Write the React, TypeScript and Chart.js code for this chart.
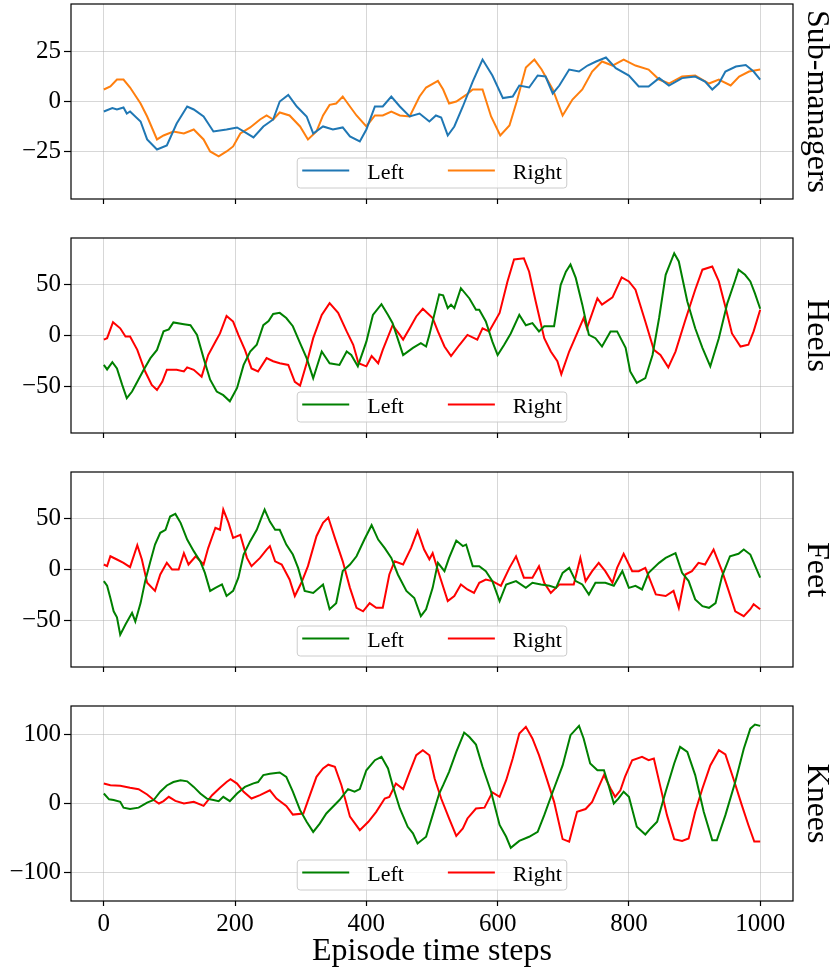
import { useEffect, useRef } from "react";
import { Chart, registerables } from "chart.js";

Chart.register(...registerables);

const FONT = "'Liberation Serif', 'Times New Roman', 'DejaVu Serif', serif";
const GRID = "rgba(176, 176, 176, 0.5)";

// shared axis values
const xTicks = [0, 200, 400, 600, 800, 1000];
const seriesLabels = ["Left", "Right"];

type Pt = [number, number];

// Sub-managers panel
const subManagersTicks = [-25, 0, 25];
const subManagersLeft: Pt[] = [
  [0, -5], [13, -3.3], [20, -4], [30, -3], [35, -6], [40, -5], [56, -10], [66, -19], [81, -24], [96, -22],
  [111, -11], [127, -2.5], [137, -4], [152, -7.5], [167, -15], [187, -14], [203, -13], [218, -16], [228, -18],
  [243, -12.5], [258, -9], [268, 0], [281, 3.3], [294, -2.5], [309, -7.5], [319, -16], [334, -12.5], [349, -14],
  [364, -13], [375, -17.5], [390, -20], [400, -14], [413, -2.5], [425, -2.5], [438, 2.5], [451, -2.5], [466, -7.5],
  [481, -6], [496, -10], [506, -7], [514, -8], [524, -17], [534, -12.5], [547, -2.5], [562, 10], [577, 21],
  [592, 13], [608, 1.7], [623, 2.5], [633, 8], [648, 7], [661, 13], [673, 12.5], [684, 4], [694, 8], [709, 16],
  [724, 15], [737, 18], [750, 20], [765, 22], [780, 16.7], [800, 13], [815, 7.5], [830, 7.5], [846, 11.7],
  [861, 8], [881, 11.7], [901, 12.5], [916, 10], [927, 6], [937, 9], [947, 15], [963, 17.5], [978, 18.3],
  [990, 15], [1000, 11],
];
const subManagersRight: Pt[] = [
  [0, 6], [10, 7.5], [20, 11], [30, 11], [40, 7], [56, -1], [66, -7.5], [81, -19], [91, -17], [106, -15],
  [122, -16], [137, -14], [152, -19], [162, -25], [175, -27.5], [187, -25], [197, -22.5], [208, -16], [223, -13],
  [238, -9], [248, -7], [258, -9], [268, -5.5], [283, -7], [299, -12.5], [311, -19], [324, -15], [334, -7],
  [344, -1.7], [354, -1], [364, 2.5], [375, -2.5], [385, -7], [400, -12.5], [413, -7], [425, -7], [438, -5],
  [451, -7], [466, -7.5], [481, 2.5], [491, 7], [509, 10.3], [517, 6], [526, -1], [537, 0], [552, 3.3], [562, 6],
  [577, 6], [590, -7.5], [604, -17], [618, -12], [630, 1], [643, 17], [656, 21], [667, 16], [684, 6], [699, -7],
  [714, 1], [729, 6], [744, 15], [759, 20], [775, 18], [792, 21], [810, 18], [830, 16], [846, 11], [861, 9],
  [881, 12.5], [901, 13], [922, 9], [937, 11], [955, 8], [968, 12.5], [983, 15], [1000, 16],
];

// Heels panel
const heelsTicks = [-50, 0, 50];
const heelsLeft: Pt[] = [
  [0, -28.6], [5, -33], [13, -26], [20, -32], [28, -48], [35, -61], [43, -54.5], [51, -45], [61, -33], [71, -22],
  [81, -14], [91, 4], [99, 6], [106, 12.7], [122, 11], [132, 10], [142, 0.6], [152, -22], [162, -43], [172, -54.5],
  [182, -58], [192, -64], [203, -51], [213, -28.6], [223, -15.6], [233, -9], [243, 10], [251, 14], [258, 21],
  [268, 22], [278, 17], [288, 9], [299, -7.5], [309, -22], [319, -41.5], [332, -15.6], [344, -27], [359, -28.6],
  [370, -15.6], [377, -19], [387, -30], [400, -6], [410, 20], [423, 30.5], [433, 20], [440, 12], [456, -19],
  [471, -12], [483, -7.5], [491, -10.7], [496, 0.6], [511, 40], [517, 39], [524, 26.6], [529, 30], [534, 26.6],
  [544, 46], [557, 36], [567, 25], [572, 25], [582, 13.6], [592, -6], [600, -19], [610, -9], [620, 2], [633, 20],
  [643, 10], [653, 12], [663, 4], [671, 9], [686, 9], [696, 49], [704, 62], [711, 69], [719, 56], [729, 30],
  [739, 0.6], [749, -2.6], [759, -10.7], [772, 4], [782, 4], [795, -12], [802, -35], [812, -46], [825, -41.5],
  [836, -19], [846, 17], [856, 59], [869, 80], [876, 72], [889, 33], [901, 7], [912, -12], [924, -30],
  [937, -2.6], [950, 31.5], [962, 54], [967, 64], [977, 59], [985, 52.6], [992, 41], [1000, 26],
];
const heelsRight: Pt[] = [
  [0, -4], [5, -2.6], [14, 13], [25, 7], [33, -1], [40, -1], [51, -14], [63, -35], [73, -48], [81, -53],
  [89, -45], [96, -33.4], [111, -33.4], [122, -35], [127, -31], [137, -33.4], [149, -40], [159, -19], [170, -6],
  [177, 2], [187, 19], [197, 13.6], [205, 0.6], [215, -14], [225, -32], [235, -35], [248, -22], [258, -25],
  [268, -27], [281, -28.6], [291, -45], [299, -48.7], [309, -27], [319, -2.6], [332, 20], [344, 31.5], [357, 22],
  [370, 4], [380, -9], [388, -27], [400, -30], [408, -20], [418, -27], [425, -14], [440, 10], [451, 0.6],
  [456, -4], [466, 7], [476, 18.5], [486, 26], [501, 17], [509, 4], [519, -10.7], [529, -20], [542, -9],
  [554, 0.6], [569, -4], [577, 7], [587, 4], [603, 22], [615, 52.6], [625, 74], [640, 75], [648, 62], [658, 33],
  [671, -2.6], [681, -15.6], [691, -25], [697, -37.6], [709, -15.6], [721, 2], [731, 17], [736, 7], [752, 36],
  [759, 30], [775, 37], [789, 56.5], [800, 52.6], [810, 44.5], [825, 13.6], [838, -14], [848, -19], [860, -31],
  [871, -15.6], [886, 15], [901, 44.5], [912, 64], [927, 67], [937, 52.6], [947, 28], [957, 2], [970, -10.7],
  [982, -9], [990, 4], [1000, 25],
];

// Feet panel
const feetTicks = [-50, 0, 50];
const feetLeft: Pt[] = [
  [0, -11.4], [5, -16], [10, -28], [15, -41], [20, -47], [25, -64], [33, -54], [43, -42.5], [48, -51], [56, -33],
  [63, -11.4], [71, 8], [78, 24.5], [86, 36], [94, 39], [101, 52], [109, 54.6], [117, 45.8], [127, 29.4],
  [137, 18], [147, 8], [154, -3.3], [162, -21], [170, -18], [180, -14.7], [187, -26], [197, -21], [205, -8],
  [213, 14.7], [223, 27.8], [233, 39], [240, 50.6], [245, 58.8], [253, 47], [261, 39], [268, 39], [278, 24.5],
  [288, 14.7], [296, 1.6], [306, -21], [319, -23], [334, -14.7], [344, -39], [354, -33], [364, -1.6], [375, 4.9],
  [385, 13], [397, 29.4], [408, 43.5], [418, 29.4], [428, 21], [438, 11.4], [448, -4.9], [461, -21], [473, -28],
  [483, -45.8], [491, -39], [501, -18], [509, 6.5], [519, -1.6], [526, 11.4], [537, 28.4], [547, 23], [552, 24.5],
  [562, 3.3], [572, 3.3], [582, -1.6], [592, -11.4], [603, -31], [613, -14.7], [628, -11.4], [643, -18],
  [653, -13], [666, -14.7], [679, -16], [689, -18], [699, -3.3], [709, 1.6], [719, -11.4], [729, -14.7],
  [739, -24.5], [749, -13], [764, -13], [777, -16], [790, -1.6], [800, -18], [810, -16], [820, -19.6],
  [830, -3.3], [846, 6.5], [856, 11.4], [871, 16], [881, -3.3], [891, -11.4], [901, -29.4], [912, -36],
  [922, -37.6], [932, -33], [942, -6.5], [954, 13], [967, 15.4], [975, 19.6], [985, 14.7], [1000, -8],
];
const feetRight: Pt[] = [
  [0, 4.9], [5, 3.3], [10, 13], [20, 9.8], [30, 6.5], [40, 2.3], [51, 23.8], [58, 9.8], [66, -13], [78, -21],
  [86, -4.9], [96, 6.5], [104, 0], [114, 0], [122, 16], [129, 4.9], [140, 13], [152, 4.9], [159, 21], [170, 41],
  [177, 39], [182, 58.8], [190, 45.8], [197, 31], [208, 34], [218, 11.4], [225, 3.3], [238, 11.4], [248, 19.6],
  [253, 23], [261, 8], [271, 4.9], [283, -9.8], [291, -26], [301, -13], [311, 3.3], [324, 32.7], [334, 45.8],
  [342, 51], [352, 31], [364, 8], [375, -18], [385, -37.6], [395, -41], [405, -33], [415, -37.6], [425, -37.6],
  [435, -4.9], [443, 8], [456, 4.9], [468, 21], [478, 38], [488, 19.6], [496, 10], [501, 16], [511, -4.9],
  [524, -31], [534, -26], [544, -14.7], [554, -19.6], [564, -23], [572, -13], [582, -9.8], [592, -11.4],
  [605, -16], [618, 1.6], [628, 13], [640, -8], [653, -8], [663, 3.3], [671, -13], [681, -23], [694, -14.7],
  [704, -14.7], [716, -14.7], [726, 11.4], [734, -11.4], [744, -1.6], [754, 6.5], [764, -1.6], [775, -13],
  [782, 1.6], [792, 15.4], [805, -1.6], [815, -1.6], [825, 1.6], [841, -24.5], [856, -26], [868, -21],
  [876, -37.6], [886, -4.9], [896, -1.6], [906, 6.5], [916, 4.9], [929, 19.6], [942, -1.6], [952, -21],
  [962, -41], [975, -45.8], [985, -39], [990, -34], [1000, -39],
];

// Knees panel
const kneesTicks = [-100, 0, 100];
const kneesLeft: Pt[] = [
  [0, 14.4], [8, 6], [15, 5], [25, 2.4], [30, -6], [40, -8], [53, -6], [66, 1.4], [76, 5], [86, 17], [96, 26],
  [106, 31], [117, 33.6], [127, 32], [137, 24], [147, 14.4], [157, 7], [167, 5], [175, 3.4], [182, 9.6],
  [192, 3.4], [203, 14.4], [215, 24], [228, 29], [235, 31], [243, 41], [253, 43], [268, 44.7], [278, 38.5],
  [288, 17], [299, -9.6], [309, -26.4], [319, -41], [329, -29], [339, -14.4], [349, -4.8], [359, 5], [372, 20.7],
  [382, 17], [390, 20.7], [400, 48], [413, 62.5], [423, 67.3], [433, 50.5], [440, 26.4], [451, -7.2],
  [463, -33.6], [471, -43], [478, -57.7], [491, -48], [501, -16.8], [511, 14.4], [517, 26.4], [526, 45.7],
  [537, 74.5], [549, 102.4], [557, 96], [567, 85], [577, 53], [590, 17], [603, -31], [613, -48], [620, -64],
  [633, -54], [648, -48], [661, -41], [671, -16.8], [684, 17], [699, 55], [711, 98.6], [724, 112], [731, 93.8],
  [741, 57.7], [752, 48], [762, 48], [769, 26.4], [777, 0], [784, 7], [792, 17], [800, 9.6], [812, -33.6],
  [825, -44.7], [833, -36], [843, -26.4], [856, 17], [869, 57.7], [878, 81.7], [889, 74.5], [901, 41],
  [914, -12], [927, -53], [934, -53], [947, -16.8], [962, 31], [975, 79], [985, 108], [992, 114], [1000, 112],
];
const kneesRight: Pt[] = [
  [0, 28.8], [10, 26.4], [25, 25.5], [40, 22.6], [53, 20.7], [66, 13], [76, 5], [84, 0], [91, 3.4], [99, 9.6],
  [109, 3.8], [122, 0], [137, 2.4], [152, -3.4], [165, 12], [177, 22.6], [187, 31], [193, 35], [203, 28.8],
  [213, 16.8], [225, 7.2], [238, 12], [253, 19], [263, 7.2], [278, -3.4], [288, -16], [304, -14.4], [314, 12],
  [324, 38.5], [334, 50.5], [342, 56], [352, 53], [362, 26.4], [375, -19], [390, -38.5], [403, -26.4],
  [415, -12], [428, 7.2], [435, 9.6], [445, 28.8], [456, 20.7], [466, 45.7], [476, 69.7], [486, 77],
  [496, 69.7], [504, 36], [514, 7.2], [526, -21.6], [537, -46.6], [547, -36], [554, -21.6], [567, -7.2],
  [580, -6], [592, 16], [603, 9.6], [613, 33.6], [623, 65], [633, 101], [643, 110.6], [653, 93.8], [663, 69.7],
  [673, 41], [686, 2.4], [699, -51.4], [709, -55], [721, -12], [734, -8], [744, 2.4], [754, 24], [762, 41],
  [772, 21.6], [779, 9.6], [787, 19], [794, 38.5], [805, 62.5], [820, 67.3], [830, 62.5], [838, 65], [848, 24],
  [858, -16.8], [869, -51.4], [881, -54], [891, -50.5], [901, -12], [912, 21.6], [924, 55], [937, 77],
  [947, 70.7], [960, 33.6], [972, -2.4], [982, -31], [991, -55], [1000, -55],
];

// legend drawn inside the plot, bottom centre, like matplotlib's "lower center"
const insideLegend = {
  id: "insideLegend",
  afterDatasetsDraw(chart: Chart) {
    const { ctx, chartArea } = chart;
    const items = chart.data.datasets.map((d) => ({
      label: String(d.label),
      color: String(d.borderColor),
    }));
    ctx.save();
    ctx.font = `22px ${FONT}`;
    const handle = 47;
    const textGap = 18;
    const colGap = 44;
    const pad = 5;
    const h = 30;
    const widths = items.map((it) => ctx.measureText(it.label).width);
    const total =
      pad * 2 + widths.reduce((s, w) => s + handle + textGap + w, 0) + colGap * (items.length - 1);
    const x0 = (chartArea.left + chartArea.right) / 2 - total / 2;
    const y1 = chartArea.bottom - 11;
    const y0 = y1 - h;
    ctx.beginPath();
    ctx.roundRect(x0, y0, total, h, 3);
    ctx.fillStyle = "rgba(255,255,255,0.8)";
    ctx.fill();
    ctx.strokeStyle = "#cccccc";
    ctx.lineWidth = 1;
    ctx.stroke();
    let x = x0 + pad;
    const mid = y0 + h / 2;
    items.forEach((it, i) => {
      ctx.beginPath();
      ctx.moveTo(x, mid - 2.5);
      ctx.lineTo(x + handle, mid - 2.5);
      ctx.strokeStyle = it.color;
      ctx.lineWidth = 2;
      ctx.stroke();
      ctx.fillStyle = "#000";
      ctx.textBaseline = "alphabetic";
      ctx.textAlign = "left";
      ctx.fillText(it.label, x + handle + textGap, mid + 6);
      x += handle + textGap + widths[i] + colGap;
    });
    ctx.restore();
  },
};

// full box round the axes
const frame = {
  id: "frame",
  afterDraw(chart: Chart) {
    const { ctx, chartArea } = chart;
    ctx.save();
    ctx.strokeStyle = "#000";
    ctx.lineWidth = 1.2;
    ctx.strokeRect(chartArea.left, chartArea.top, chartArea.right - chartArea.left, chartArea.bottom - chartArea.top);
    ctx.restore();
  },
};

const minus = (v: number | string) => String(v).replace("-", "\u2212");

type PanelProps = {
  title: string;
  left: Pt[];
  right: Pt[];
  colors: [string, string];
  yLimit: number;
  yTicks: number[];
  bottom: boolean;
};

function Panel({ title, left, right, colors, yLimit, yTicks, bottom }: PanelProps) {
  const canvasRef = useRef<HTMLCanvasElement | null>(null);

  useEffect(() => {
    if (!canvasRef.current) return;
    const chart = new Chart(canvasRef.current, {
      type: "line",
      data: {
        datasets: [left, right].map((series, i) => ({
          label: seriesLabels[i],
          data: series.map(([x, y]) => ({ x, y })),
          borderColor: colors[i],
          backgroundColor: colors[i],
          borderWidth: 2,
          pointRadius: 0,
          tension: 0,
          fill: false,
        })),
      },
      options: {
        animation: false,
        responsive: true,
        maintainAspectRatio: false,
        events: [],
        layout: { padding: { top: 4, left: 0, right: 0, bottom: 0 } },
        plugins: {
          legend: { display: false },
          tooltip: { enabled: false },
        },
        scales: {
          x: {
            type: "linear",
            min: -50,
            max: 1050,
            afterBuildTicks: (s) => {
              s.ticks = xTicks.map((value) => ({ value }));
            },
            afterFit: (s) => {
              s.height = bottom ? 71 : 35;
              s.paddingLeft = 0;
              s.paddingRight = 0;
            },
            ticks: {
              display: bottom,
              color: "#000",
              font: { family: FONT, size: 25 },
              padding: 3,
              maxRotation: 0,
              autoSkip: false,
              callback: (v) => String(v),
            },
            grid: { color: GRID, lineWidth: 1, tickColor: "#000", tickLength: 5, tickWidth: 1.2 },
            border: { display: false },
            title: {
              display: bottom,
              text: "Episode time steps",
              color: "#000",
              font: { family: FONT, size: 32, lineHeight: 1 },
              padding: { top: 0, bottom: 4 },
            },
          },
          y: {
            type: "linear",
            position: "left",
            min: -yLimit,
            max: yLimit,
            afterBuildTicks: (s) => {
              s.ticks = yTicks.map((value) => ({ value }));
            },
            afterFit: (s) => {
              s.width = 71;
              s.paddingTop = 0;
              s.paddingBottom = 0;
            },
            ticks: {
              color: "#000",
              font: { family: FONT, size: 25 },
              padding: 3,
              callback: (v) => minus(v),
            },
            grid: { color: GRID, lineWidth: 1, tickColor: "#000", tickLength: 7, tickWidth: 1.2 },
            border: { display: false },
          },
          yTitle: {
            type: "linear",
            position: "right",
            min: -yLimit,
            max: yLimit,
            afterFit: (s) => {
              s.width = 37;
              s.paddingTop = 0;
              s.paddingBottom = 0;
            },
            ticks: { display: false },
            grid: { display: false },
            border: { display: false },
            title: {
              display: true,
              text: title,
              color: "#000",
              font: { family: FONT, size: 32, lineHeight: 0.875 },
              padding: 0,
            },
          },
        },
      },
      plugins: [insideLegend, frame],
    });

    return () => {
      chart.destroy();
    };
  }, [title, left, right, colors, yLimit, yTicks, bottom]);

  return <canvas ref={canvasRef} style={{ display: "block" }} />;
}

const panels: PanelProps[] = [
  { title: "Sub-managers", left: subManagersLeft, right: subManagersRight, colors: ["#1f77b4", "#ff7f0e"], yLimit: 48.8, yTicks: subManagersTicks, bottom: false },
  { title: "Heels", left: heelsLeft, right: heelsRight, colors: ["#008000", "#ff0000"], yLimit: 94.8, yTicks: heelsTicks, bottom: false },
  { title: "Feet", left: feetLeft, right: feetRight, colors: ["#008000", "#ff0000"], yLimit: 95.7, yTicks: feetTicks, bottom: false },
  { title: "Knees", left: kneesLeft, right: kneesRight, colors: ["#008000", "#ff0000"], yLimit: 140.7, yTicks: kneesTicks, bottom: true },
];

export default function App() {
  return (
    <div style={{ position: "absolute", left: 0, top: 0, width: 830, height: 972, overflow: "hidden", background: "#fff" }}>
      {panels.map((p, k) => (
        <div
          key={p.title}
          style={{ position: "absolute", left: 0, top: 234 * k, width: 830, height: p.bottom ? 270 : 234 }}
        >
          <Panel {...p} />
        </div>
      ))}
    </div>
  );
}
